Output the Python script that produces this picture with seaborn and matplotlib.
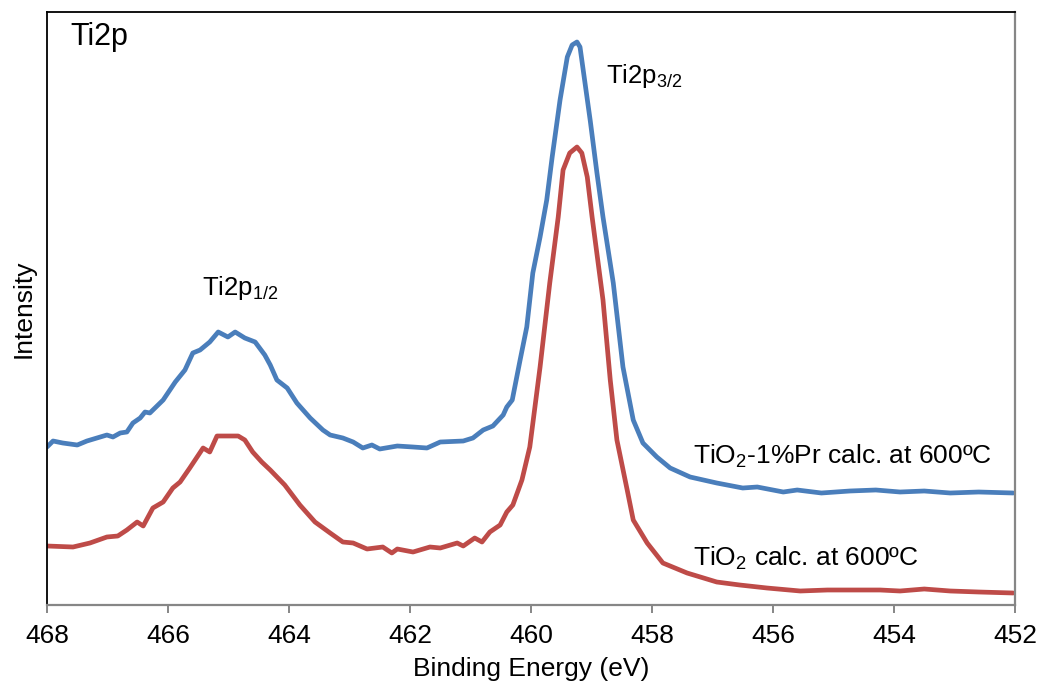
import numpy as np
import pandas as pd
import matplotlib
matplotlib.use("Agg")
import matplotlib.pyplot as plt
import seaborn as sns

# Binding energy (eV) and intensity (a.u.) for TiO2-1%Pr calcined at 600 ºC
be_pr = [468.00, 467.90, 467.74, 467.50, 467.34, 467.12, 467.01, 466.91, 466.79, 466.68,
         466.58, 466.46, 466.38, 466.30, 466.08, 465.88, 465.72, 465.59, 465.47, 465.31,
         465.17, 465.01, 464.89, 464.73, 464.56, 464.40, 464.31, 464.20, 464.03, 463.87,
         463.65, 463.44, 463.32, 463.11, 462.94, 462.78, 462.63, 462.50, 462.21, 461.95,
         461.72, 461.50, 461.12, 460.96, 460.79, 460.63, 460.46, 460.40, 460.31, 460.18,
         460.07, 459.97, 459.85, 459.74, 459.65, 459.52, 459.40, 459.32, 459.24, 459.19,
         459.02, 458.91, 458.81, 458.64, 458.48, 458.31, 458.15, 457.92, 457.70, 457.37,
         456.93, 456.50, 456.26, 455.83, 455.60, 455.20, 454.73, 454.30, 453.90, 453.50,
         453.07, 452.60, 452.03]
int_pr = [158, 164, 162, 160, 164, 168, 170, 168, 172, 173,
          182, 187, 193, 192, 205, 223, 235, 252, 255, 263,
          273, 268, 273, 267, 263, 250, 240, 225, 217, 202,
          187, 175, 170, 167, 163, 157, 160, 156, 159, 158,
          157, 163, 164, 167, 175, 179, 190, 198, 205, 245,
          278, 332, 368, 405, 448, 505, 548, 560, 563, 558,
          484, 432, 388, 322, 238, 185, 162, 148, 137, 128,
          122, 117, 118, 113, 115, 112, 114, 115, 113, 114,
          112, 113, 112]

# Binding energy (eV) and intensity (a.u.) for TiO2 calcined at 600 ºC
be_ti = [468.00, 467.57, 467.29, 467.01, 466.83, 466.68, 466.51, 466.41, 466.25, 466.08,
         465.92, 465.80, 465.64, 465.42, 465.31, 465.19, 465.02, 464.84, 464.73, 464.60,
         464.45, 464.31, 464.07, 463.82, 463.57, 463.32, 463.11, 462.94, 462.71, 462.45,
         462.30, 462.21, 461.95, 461.67, 461.50, 461.22, 461.12, 460.93, 460.81, 460.68,
         460.51, 460.40, 460.30, 460.15, 460.02, 459.85, 459.69, 459.55, 459.47, 459.36,
         459.24, 459.16, 459.07, 458.99, 458.81, 458.69, 458.58, 458.41, 458.31, 458.08,
         457.82, 457.42, 456.93, 456.55, 456.10, 455.55, 455.10, 454.73, 454.23, 453.90,
         453.50, 453.07, 452.60, 452.03]
int_ti = [59, 58, 62, 68, 69, 75, 83, 79, 97, 103,
          117, 123, 137, 157, 153, 169, 169, 169, 165, 153,
          143, 135, 120, 100, 83, 72, 63, 62, 56, 58,
          52, 56, 53, 58, 57, 62, 59, 67, 63, 73,
          80, 93, 100, 125, 158, 238, 322, 388, 435, 452,
          458, 452, 428, 388, 305, 225, 165, 115, 85, 62,
          42, 32, 23, 20, 17, 14, 15, 15, 15, 14,
          16, 14, 13, 12]

x_ticks = [468, 466, 464, 462, 460, 458, 456, 454, 452]

df = pd.concat([
    pd.DataFrame({"be": be_pr, "intensity": int_pr, "sample": "TiO2-1%Pr"}),
    pd.DataFrame({"be": be_ti, "intensity": int_ti, "sample": "TiO2"}),
])

sns.set_theme(style="white")
plt.rcParams["font.family"] = ["Liberation Sans", "DejaVu Sans"]
plt.rcParams["mathtext.fontset"] = "custom"
plt.rcParams["mathtext.rm"] = "Liberation Sans"
plt.rcParams["text.color"] = "black"
plt.rcParams["axes.labelcolor"] = "black"
plt.rcParams["xtick.labelcolor"] = "black"
plt.rcParams["lines.solid_joinstyle"] = "round"
plt.rcParams["lines.solid_capstyle"] = "round"

fig = plt.figure(figsize=(10.38, 6.93), dpi=100)
ax = fig.add_axes([47 / 1038, 1 - 605 / 693, (1015 - 47) / 1038, (605 - 12) / 693])

sns.lineplot(data=df, x="be", y="intensity", hue="sample",
             palette={"TiO2-1%Pr": "#4A7EBB", "TiO2": "#BE4B48"},
             linewidth=3.4, legend=False, sort=False, estimator=None, ax=ax)
for line in ax.get_lines():
    line.set_solid_joinstyle("round")
    line.set_solid_capstyle("round")

ax.set_xlim(468, 452)
ax.set_ylim(0, 593)
ax.set_xticks(x_ticks)
ax.set_xticklabels([str(t) for t in x_ticks])
ax.set_yticks([])

for side in ("left", "top"):
    ax.spines[side].set_color("black")
    ax.spines[side].set_linewidth(1.3)
for side in ("right", "bottom"):
    ax.spines[side].set_color("#868686")
    ax.spines[side].set_linewidth(1.6)

ax.tick_params(axis="x", direction="out", length=6, width=1.4, color="#868686",
               labelsize=19, pad=8, bottom=True, labelcolor="black")
ax.set_xlabel("Binding Energy (eV)", fontsize=19, labelpad=6, color="black")
ax.set_ylabel("Intensity", fontsize=19, labelpad=8, color="black")

ax.text(0.024, 0.945, "Ti2p", transform=ax.transAxes, fontsize=22,
        ha="left", va="baseline", color="black")
ax.text(465.44, 310, r"Ti2p$_\mathregular{1/2}$", fontsize=18.5,
        ha="left", va="baseline", color="black")
ax.text(458.76, 522, r"Ti2p$_\mathregular{3/2}$", fontsize=18.5,
        ha="left", va="baseline", color="black")
ax.text(457.32, 142, r"TiO$_\mathregular{2}$-1%Pr calc. at 600ºC", fontsize=19,
        ha="left", va="baseline", color="black")
ax.text(457.32, 40, r"TiO$_\mathregular{2}$ calc. at 600ºC", fontsize=19,
        ha="left", va="baseline", color="black")

fig.savefig("out.png", dpi=100)
